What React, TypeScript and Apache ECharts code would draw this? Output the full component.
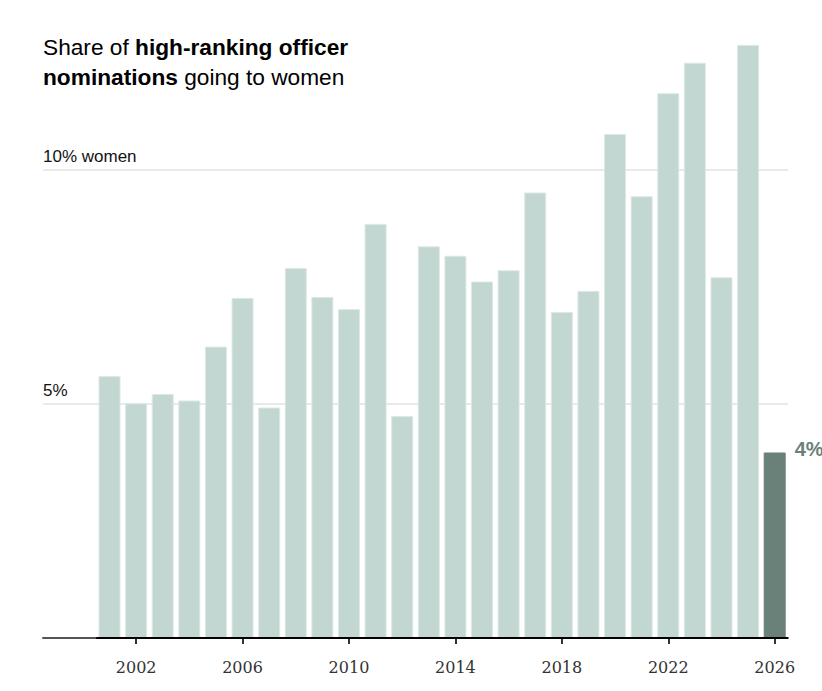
import React, { useEffect, useRef } from "react";
import * as echarts from "echarts";

const leadingYears = ["1999", "2000"];
const years = [
  "2001", "2002", "2003", "2004", "2005", "2006", "2007", "2008", "2009", "2010",
  "2011", "2012", "2013", "2014", "2015", "2016", "2017", "2018", "2019", "2020",
  "2021", "2022", "2023", "2024", "2025", "2026",
];
const shareWomen = [
  5.59, 5.01, 5.21, 5.07, 6.22, 7.26, 4.92, 7.9, 7.28, 7.02,
  8.84, 4.74, 8.36, 8.16, 7.61, 7.85, 9.51, 6.96, 7.41, 10.76,
  9.43, 11.63, 12.28, 7.7, 12.66, 3.96,
];
const highlightYear = "2026";
const highlightLabel = "4%";
const yTickLabels: Record<number, string> = { 5: "5%", 10: "10% women" };

export default function App() {
  const ref = useRef<HTMLDivElement>(null);
  useEffect(() => {
    document.body.style.margin = "0";
    if (!ref.current) return;
    const chart = echarts.init(ref.current, undefined, { renderer: "svg" });
    const categories = [...leadingYears, ...years];
    const data = [
      ...leadingYears.map(() => null),
      ...years.map((y, i) =>
        y === highlightYear
          ? {
              value: shareWomen[i],
              itemStyle: { color: "#6a8179", borderColor: "#6a8179" },
              label: {
                show: true,
                formatter: highlightLabel,
                position: [31, -3],
                align: "left",
                verticalAlign: "middle",
                fontSize: 20,
                fontWeight: "bold",
                color: "#6a8179",
                fontFamily: "Liberation Sans, Arial, sans-serif",
              },
            }
          : shareWomen[i]
      ),
    ];
    const every4 = (_i: number, v: string) => (Number(v) - 2002) % 4 === 0;
    chart.setOption({
      animation: false,
      grid: { left: 43, right: 34, top: 29, bottom: 53, containLabel: false },
      xAxis: {
        type: "category",
        data: categories,
        axisLine: { show: true, lineStyle: { color: "#555", width: 2 } },
        axisTick: {
          show: true,
          alignWithLabel: true,
          interval: every4,
          length: 6,
          lineStyle: { color: "#333", width: 2 },
        },
        axisLabel: {
          interval: every4,
          margin: 21,
          fontSize: 16,
          color: "#333",
          fontFamily: "DejaVu Serif, Georgia, serif",
        },
        splitLine: { show: false },
      },
      yAxis: {
        type: "value",
        min: 0,
        max: 13,
        interval: 5,
        axisLine: { show: false },
        axisTick: { show: false },
        axisLabel: {
          inside: true,
          margin: 0,
          verticalAlign: "bottom",
          padding: [0, 0, 5, 0],
          fontSize: 17,
          color: "#121212",
          fontFamily: "Liberation Sans, Arial, sans-serif",
          formatter: (v: number) => yTickLabels[v] || "",
        },
        splitLine: {
          show: true,
          showMinLine: false,
          showMaxLine: false,
          lineStyle: { color: "#e2e2e2", width: 1.5 },
        },
      },
      series: [
        {
          type: "bar",
          data,
          barWidth: 22,
          itemStyle: { color: "#c2d7d1", borderColor: "#dde8e5", borderWidth: 1 },
        },
      ],
      graphic: [
        {
          id: "title",
          type: "text",
          left: 43,
          top: 35,
          style: {
            text: "{n|Share of }{b|high-ranking officer}\n{b|nominations}{n| going to women}",
            rich: {
              n: {
                fontSize: 22.7,
                fontFamily: "Liberation Sans, Arial, sans-serif",
                color: "#333",
                lineHeight: 30,
              },
              b: {
                fontSize: 22.7,
                fontWeight: "bold",
                fontFamily: "Liberation Sans, Arial, sans-serif",
                color: "#333",
                lineHeight: 30,
              },
            },
          },
        },
      ],
    });
    // black baseline under the bars, positioned via the axis scale
    const c1 = chart.convertToPixel({ xAxisIndex: 0 }, years[0]) as number;
    const c2 = chart.convertToPixel({ xAxisIndex: 0 }, years[1]) as number;
    const cl = chart.convertToPixel({ xAxisIndex: 0 }, years[years.length - 1]) as number;
    const y0 = chart.convertToPixel({ yAxisIndex: 0 }, 0) as number;
    const band = c2 - c1;
    chart.setOption({
      graphic: [
        {
          id: "baseline",
          type: "line",
          z: 100,
          shape: { x1: c1 - band / 2, y1: y0, x2: cl + band / 2, y2: y0 },
          style: { stroke: "#000", lineWidth: 2 },
        },
      ],
    });
    return () => chart.dispose();
  }, []);
  return <div ref={ref} style={{ width: 822, height: 691 }} />;
}
